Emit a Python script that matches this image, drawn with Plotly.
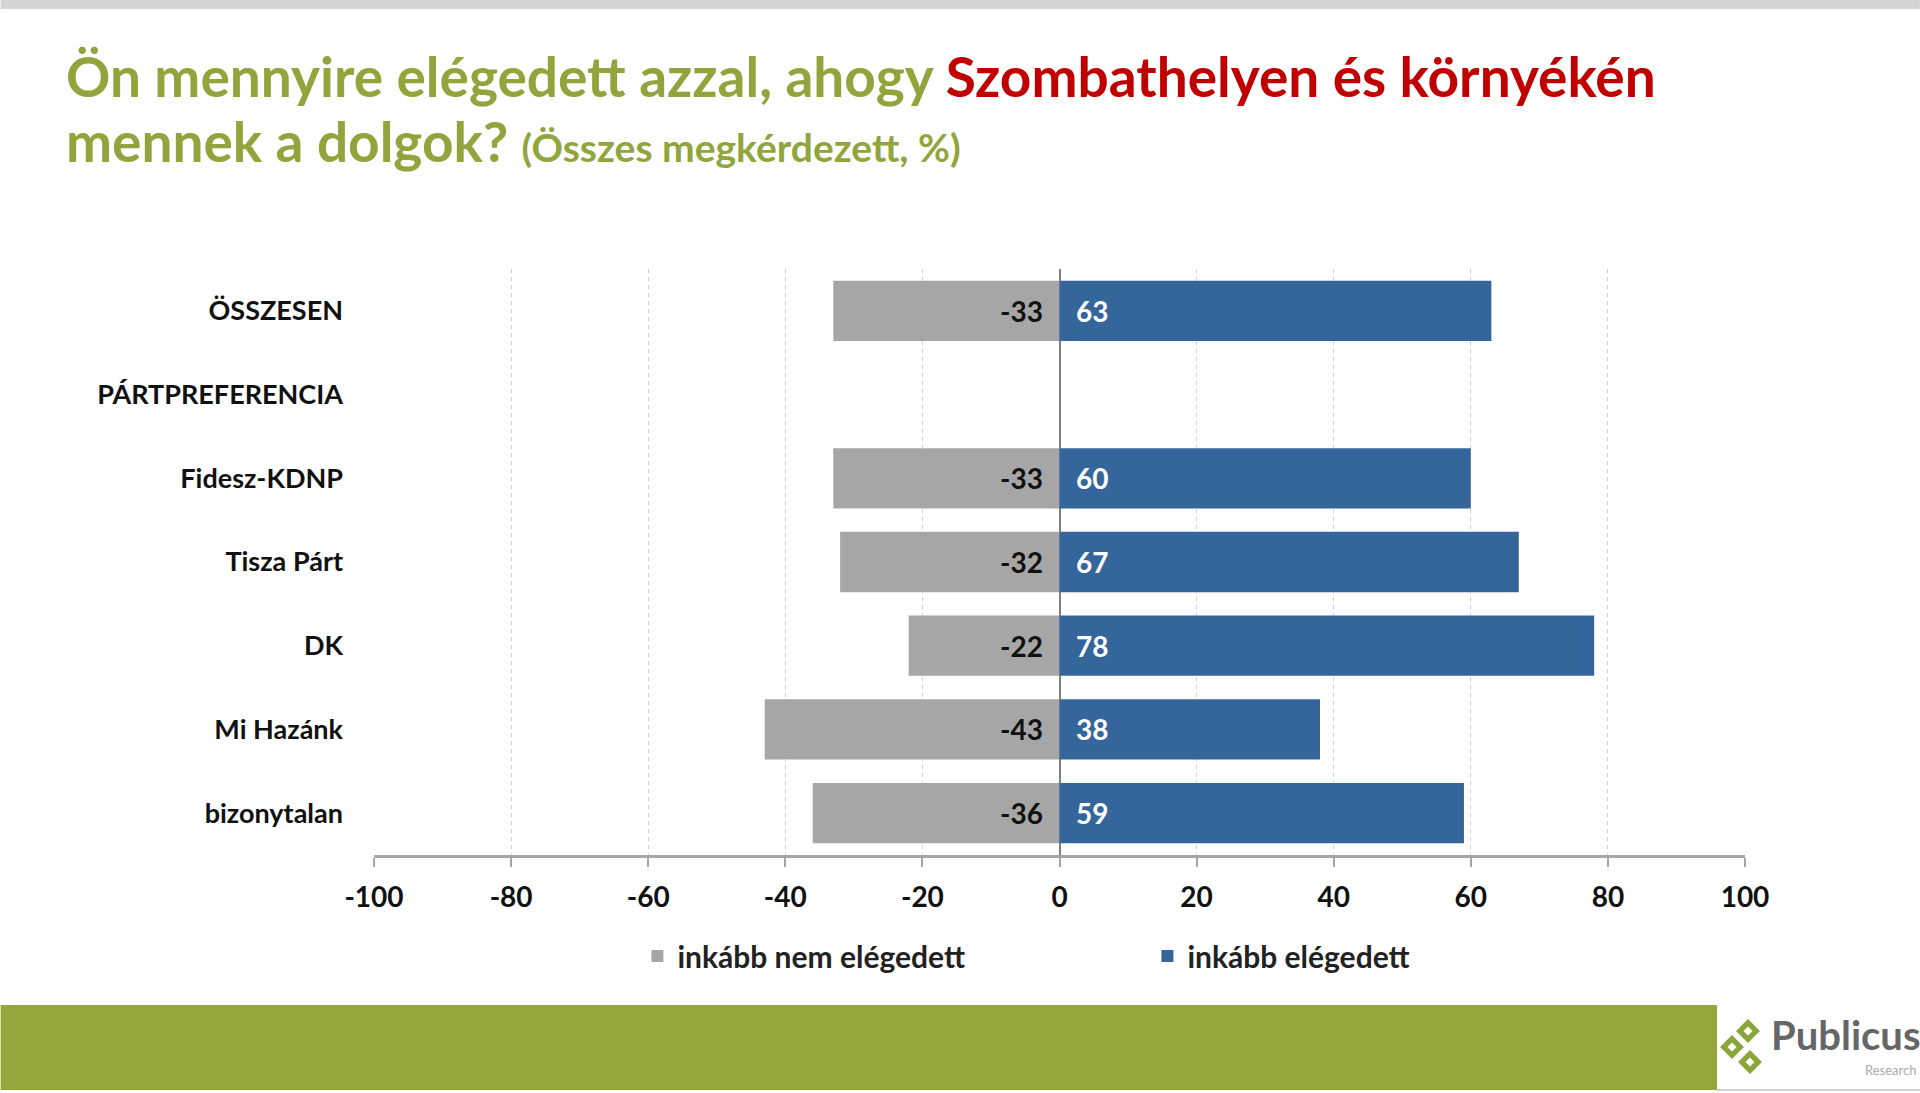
import plotly.graph_objects as go

# ---------------- data ----------------
categories = ["ÖSSZESEN", "PÁRTPREFERENCIA", "Fidesz-KDNP", "Tisza Párt", "DK", "Mi Hazánk", "bizonytalan"]
not_satisfied = [-33, None, -33, -32, -22, -43, -36]
satisfied = [63, None, 60, 67, 78, 38, 59]
series_names = ["inkább nem elégedett", "inkább elégedett"]
x_tickvals = [-100, -80, -60, -40, -20, 0, 20, 40, 60, 80, 100]
x_ticktext = ["-100", "-80", "-60", "-40", "-20", "0", "20", "40", "60", "80", "100"]

# ---------------- layout geometry ----------------
W, H = 1920, 1093
L, R, T, B = 373.5, 1745, 269, 855
FONT = "Lato"
GREEN = "#92a53d"
RED = "#c00000"
GRAY_BAR = "#a6a6a6"
BLUE_BAR = "#34669b"
NB = "\u00a0"


def px(xp):
    return (xp - L) / (R - L)


def py(yp):
    return (B - yp) / (B - T)


fig = go.Figure()

fig.add_trace(go.Bar(
    y=categories, x=not_satisfied, orientation="h", name=series_names[0],
    marker=dict(color=GRAY_BAR, line=dict(width=0)),
    text=[("" if v is None else str(v) + NB * 2) for v in not_satisfied],
    textposition="inside", insidetextanchor="start",
    textfont=dict(family=FONT, size=28, color="#111111", weight="bold"),
    hoverinfo="skip",
))
fig.add_trace(go.Bar(
    y=categories, x=satisfied, orientation="h", name=series_names[1],
    marker=dict(color=BLUE_BAR, line=dict(width=0)),
    text=[("" if v is None else NB * 2 + str(v)) for v in satisfied],
    textposition="inside", insidetextanchor="start",
    textfont=dict(family=FONT, size=28, color="#ffffff", weight="bold"),
    hoverinfo="skip",
))

shapes = [
    # top gray strip
    dict(type="rect", xref="paper", yref="paper", x0=px(0), x1=px(W), y0=py(0), y1=py(9),
         fillcolor="#d4d4d4", line=dict(width=0), layer="below"),
    # bottom green band
    dict(type="rect", xref="paper", yref="paper", x0=px(0), x1=px(1717), y0=py(1005), y1=py(1090),
         fillcolor="#96a53c", line=dict(width=0), layer="below"),
    # thin line under logo
    dict(type="line", xref="paper", yref="paper", x0=px(1717), x1=px(W), y0=py(1090), y1=py(1090),
         line=dict(color="#d0d0d0", width=2)),
]


# logo diamonds
def diamond(cx, cy, r, color):
    return dict(type="path", xref="paper", yref="paper",
                path=f"M {px(cx)},{py(cy - r)} L {px(cx + r)},{py(cy)} L {px(cx)},{py(cy + r)} L {px(cx - r)},{py(cy)} Z",
                fillcolor=color, line=dict(width=0))


for (cx, cy) in [(1748, 1031), (1732, 1047), (1750, 1062)]:
    shapes.append(diamond(cx, cy, 12, "#8aa63a"))
    shapes.append(diamond(cx, cy, 4.5, "#ffffff"))

annotations = [
    dict(xref="paper", yref="paper", x=px(1922), y=py(1035), xanchor="right", yanchor="middle",
         text="<b>Publicus</b>", showarrow=False, font=dict(family=FONT, size=40, color="#666666")),
    dict(xref="paper", yref="paper", x=px(1918), y=py(1070), xanchor="right", yanchor="middle",
         text="Research", showarrow=False, font=dict(family=FONT, size=13, color="#aaaaaa")),
    # title line 1
    dict(xref="paper", yref="paper", x=px(63), y=py(76), xanchor="left", yanchor="middle",
         showarrow=False, align="left",
         text=(f"<b><span style='color:{GREEN}'>Ön mennyire elégedett azzal, ahogy </span>"
               f"<span style='color:{RED}'>Szombathelyen és környékén</span></b>"),
         font=dict(family=FONT, size=55, color=GREEN)),
    # title line 2
    dict(xref="paper", yref="paper", x=px(63), y=py(141), xanchor="left", yanchor="middle",
         showarrow=False, align="left",
         text=(f"<b>mennek a dolgok? "
               f"<span style='font-size:39px'>(Összes megkérdezett, %)</span></b>"),
         font=dict(family=FONT, size=55, color=GREEN)),
]

fig.update_layout(
    width=W, height=H,
    margin=dict(l=L, r=W - R, t=T, b=H - B, pad=0),
    paper_bgcolor="white", plot_bgcolor="white",
    barmode="relative", bargap=0.28,
    font=dict(family=FONT, color="#111111"),
    showlegend=True,
    legend=dict(orientation="h", x=px(637), xanchor="left", y=py(956), yanchor="middle",
                font=dict(family=FONT, size=30, color="#222222", weight="bold"),
                entrywidth=465, entrywidthmode="pixels", itemwidth=30,
                bgcolor="rgba(0,0,0,0)", traceorder="normal"),
    shapes=shapes,
    annotations=annotations,
    xaxis=dict(
        range=[-100, 100], tickvals=x_tickvals, ticktext=x_ticktext,
        showgrid=True, gridcolor="#cfcfcf", gridwidth=1, griddash="4px,4px",
        zeroline=True, zerolinecolor="#7f7f7f", zerolinewidth=1.5,
        showline=True, linecolor="#a6a6a6", linewidth=3,
        ticks="outside", ticklen=9, tickcolor="#a6a6a6", tickwidth=1.5,
        tickfont=dict(family=FONT, size=28, color="#111111", weight="bold"),
        ticklabelstandoff=6, fixedrange=True,
    ),
    yaxis=dict(
        type="category", categoryorder="array", categoryarray=categories,
        range=[len(categories) - 0.5, -0.5],
        showgrid=False, zeroline=False, showline=False, ticks="",
        tickfont=dict(family=FONT, size=27, color="#111111", weight="bold"),
        ticklabelstandoff=30, fixedrange=True,
    ),
    yaxis2=dict(
        type="category", categoryorder="array", categoryarray=categories,
        range=[len(categories) - 0.5, -0.5], overlaying="y", anchor="free", position=0.5,
        side="left", showgrid=False, zeroline=False, showline=False,
        ticks="outside", tickson="boundaries", ticklen=6, tickcolor="#7f7f7f", tickwidth=1.5,
        showticklabels=False, fixedrange=True,
    ),
)

fig.write_html("out.html")
